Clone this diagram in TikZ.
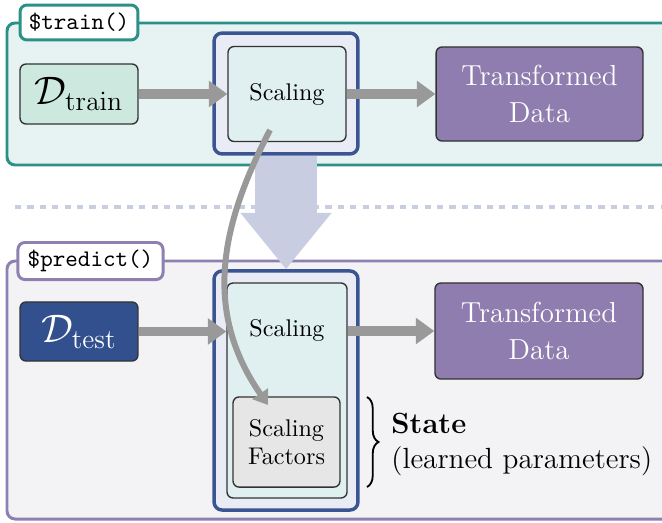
\documentclass[tikz,border=0pt]{standalone}
\usetikzlibrary{arrows.meta,decorations.pathreplacing}
\definecolor{trainteal}{HTML}{2A9187}
\definecolor{trainbg}{HTML}{E6F3F2}
\definecolor{predpurple}{HTML}{8E80B0}
\definecolor{predbg}{HTML}{F3F3F6}
\definecolor{stepblue}{HTML}{3A5591}
\definecolor{stepbg}{HTML}{E9ECF4}
\definecolor{scalebg}{HTML}{E0F0F0}
\definecolor{trainfill}{HTML}{CDE9DF}
\definecolor{testfill}{HTML}{33508E}
\definecolor{outfill}{HTML}{8E7DAE}
\definecolor{factorfill}{HTML}{E6E6E6}
\definecolor{flowgray}{HTML}{999999}
\definecolor{bigflowcol}{HTML}{C8CDE1}
\definecolor{dashcol}{HTML}{C8CDDF}
\begin{document}
\begin{tikzpicture}[x=0.435pt,y=-0.435pt,
    box/.style={draw=black!80,line width=0.6pt,rounded corners=2.6pt,align=center,inner sep=0pt},
    stepbox/.style={draw=stepblue,fill=stepbg,line width=1.5pt,rounded corners=3.5pt,inner sep=0pt},
    tag/.style={fill=white,line width=1.3pt,rounded corners=3pt,inner sep=0pt,font=\fontsize{10.4}{12}\selectfont\ttfamily},
    flow/.style={draw=flowgray,line width=4pt,-{Triangle[length=8pt,width=11pt]}}]
    \useasboundingbox (0,0) rectangle (662,522);
    \clip (0,0) rectangle (662,522);
    % Vẽ hai khung
    \draw[draw=trainteal,fill=trainbg,line width=1.3pt,rounded corners=3.5pt] (7,23) rectangle (690,165);
    \draw[draw=predpurple,fill=predbg,line width=1.3pt,rounded corners=3.5pt] (7,261) rectangle (690,519);
    
    % Đường nét đứt
    \draw[dashcol,line width=1.7pt,dash pattern=on 2.7pt off 2.7pt] (15,207) -- (662,207);
    
    % Nhãn của khung
    \node[tag,draw=trainteal,minimum width=51.3pt,minimum height=15.2pt] (trainlbl) at (79,22.5) {\$train()};
    \node[tag,draw=predpurple,minimum width=63.1pt,minimum height=16.1pt] (predictlbl) at (90.5,261) {\$predict()};
    
    % Dữ liệu vào
    \node[box,fill=trainfill,minimum width=51.3pt,minimum height=26.1pt,font=\LARGE] (dtrain) at (79,94) {$\mathcal{D}_{\mathrm{train}}$};
    \node[box,fill=testfill,text=white,minimum width=51.3pt,minimum height=25.7pt,font=\LARGE] (dtest) at (79,331.5) {$\mathcal{D}_{\mathrm{test}}$};
    
    % Bước Scaling
    \node[stepbox,minimum width=62.6pt,minimum height=52.6pt] (scaleouttop) at (286,93.5) {};
    \node[box,fill=scalebg,minimum width=51.3pt,minimum height=41.3pt,font=\fontsize{10.5}{12}\selectfont] (scaletop) at (287,94) {Scaling};
    \node[stepbox,minimum width=62.6pt,minimum height=104pt] (scaleoutbot) at (286,390.5) {};
    \node[box,fill=scalebg,minimum width=52.2pt,minimum height=93.5pt] (scalebot) at (287,390.5) {};
    \node[font=\fontsize{10.5}{12}\selectfont] (scaletxt) at (287,330) {Scaling};
    \node[box,fill=factorfill,minimum width=46.5pt,minimum height=39.2pt,font=\fontsize{10.5}{12.5}\selectfont] (factors) at (286.5,442) {Scaling\\Factors};
    
    % Dữ liệu ra
    \node[box,fill=outfill,text=white,minimum width=90pt,minimum height=40.9pt,font=\fontsize{12.6}{16}\selectfont] (datatop) at (539.5,94) {Transformed\\Data};
    \node[box,fill=outfill,text=white,minimum width=90.5pt,minimum height=41.8pt,font=\fontsize{12.6}{16}\selectfont] (databot) at (539,331) {Transformed\\Data};
    
    % Mũi tên
    \draw[flow] (dtrain.east) -- (dtrain -| scaletop.west);
    \draw[flow] (scaletop.east) -- (datatop.west);
    \draw[flow] (dtest.east) -- (dtest -| scalebot.west);
    \draw[flow] (scalebot.east |- databot) -- (databot.west);
    \draw[bigflowcol,line width=27pt,-{Triangle[length=24.5pt,width=38pt]}] (scaleouttop.south) -- (scaleoutbot.north);
    
    % Ngoặc và chữ State
    \coordinate (bracetop) at (367,397);
    \coordinate (bracebot) at (367,487);
    \draw[line width=0.8pt,decorate,decoration={brace,amplitude=5pt}] (bracetop) -- (bracebot);
    \node[anchor=west,align=left,inner sep=0pt,font=\fontsize{12.7}{15.2}\selectfont] (statetxt) at (391,444) {\textbf{State}\\(learned parameters)};
    
    % Mũi tên cong
    \coordinate (stateout) at (270,130);
    \coordinate (statein) at (268,405);
    \draw[flowgray,line width=2.6pt,-{Triangle[length=6pt,width=8pt]}] (stateout) .. controls (224,219) and (200,307) .. (statein);
\end{tikzpicture}
\end{document}
